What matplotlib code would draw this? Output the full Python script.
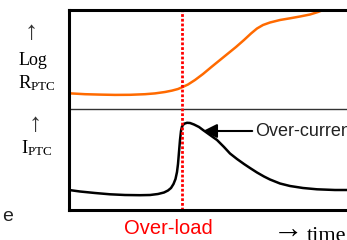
import matplotlib
matplotlib.use("Agg")
import matplotlib.pyplot as plt

W, H = 347, 240

plt.rcParams["mathtext.fontset"] = "custom"
plt.rcParams["mathtext.rm"] = "Liberation Serif"
plt.rcParams["mathtext.it"] = "Liberation Serif:italic"

# time axis (arbitrary units) and the two traces
t_res = [0, 16, 31, 46, 61, 76, 86, 96, 103, 109, 113, 119, 126, 134, 143, 151, 159, 167,
         175, 182, 188, 194, 201, 211, 221, 231, 241, 249, 254]
log_r = [116.7, 115.8, 115.4, 115.1, 115.2, 115.8, 116.6, 118, 119.4, 121, 122.7, 125.5, 130,
         136, 143.5, 150, 156.5, 163, 170, 176.5, 181.5, 185, 187.5, 190, 191.7, 193.5, 195.5,
         198, 200]

t_cur = [0, 11, 26, 41, 56, 71, 81, 89, 95, 99, 102, 104.5, 106.5, 108, 109, 110, 111, 112,
         113, 115, 118, 121, 125, 130, 134, 141, 148, 155, 161, 168, 175, 181, 188, 195, 201,
         211, 221, 234, 248, 266, 291]
i_ptc = [20, 18.5, 17, 15.7, 15, 14.8, 15, 16, 17.5, 19.5, 22, 26, 31, 38, 46, 58, 70, 79,
         83.5, 86.2, 87.2, 87, 85.5, 83, 80, 75, 70, 63, 56.5, 51, 46, 42, 37.5, 33.5, 30.5,
         26.5, 24, 22, 20.7, 20, 20]

t_overload = 112.7
divider = 101.5
t_arrow_tip, t_arrow_tail, y_arrow = 134, 186, 79

fig = plt.figure(figsize=(W / 100, H / 100), dpi=100)
ax = fig.add_axes([69 / W, 30 / H, 291 / W, 200 / H])
ax.set_xlim(0, 291)
ax.set_ylim(0, 200)
ax.set_xticks([])
ax.set_yticks([])
for side in ["top", "bottom", "left"]:
    ax.spines[side].set_linewidth(2.2)
ax.spines["right"].set_visible(False)

ax.axhline(divider, color="#333333", lw=1.0)
ax.plot(t_res, log_r, color="#ff6a00", lw=1.8, solid_capstyle="round", solid_joinstyle="round")
ax.plot(t_cur, i_ptc, color="black", lw=1.8, solid_joinstyle="round")
ax.axvline(t_overload, color="red", lw=2.0, linestyle=(0, (1, 0.7)))

ax.annotate("Over-current", xy=(t_arrow_tip, y_arrow), xytext=(t_arrow_tail, y_arrow),
            ha="left", va="center", fontsize=13, family="Liberation Sans", color="#222222",
            arrowprops=dict(arrowstyle="-|>,head_length=0.7,head_width=0.35", color="black",
                            lw=1.5, mutation_scale=12, relpos=(0, 0.5), shrinkA=0, shrinkB=0))

serif = ["Liberation Serif", "DejaVu Serif"]
fig.text(31 / W, 1 - 33 / H, "\u2191", ha="center", va="center", fontsize=19, family=serif, color="#333333")
fig.text(33 / W, 1 - 65 / H, "Log", ha="center", va="baseline", fontsize=13, family=serif)
fig.text(18 / W, 1 - 88 / H, r"R$_{\mathrm{PTC}}$", ha="left", va="baseline", fontsize=13.5, family=serif)
fig.text(35 / W, 1 - 125 / H, "\u2191", ha="center", va="center", fontsize=19, family=serif, color="#333333")
fig.text(21 / W, 1 - 153 / H, r"I$_{\mathrm{PTC}}$", ha="left", va="baseline", fontsize=13.5, family=serif)

fig.text(168.5 / W, 1 - 228 / H, "Over-load", ha="center", va="center", fontsize=14.5,
         family="Liberation Sans", color="red")
fig.text(303 / W, 1 - 239 / H, "\u2192", ha="right", va="baseline", fontsize=22, family=serif)
fig.text(307 / W, 1 - 240.5 / H, "time", ha="left", va="baseline", fontsize=16, family=serif)
fig.text(13 / W, 1 - 216.5 / H, "e", ha="right", va="center", fontsize=14,
         family="Liberation Sans", color="#222222")

fig.savefig("out.png", dpi=100)
